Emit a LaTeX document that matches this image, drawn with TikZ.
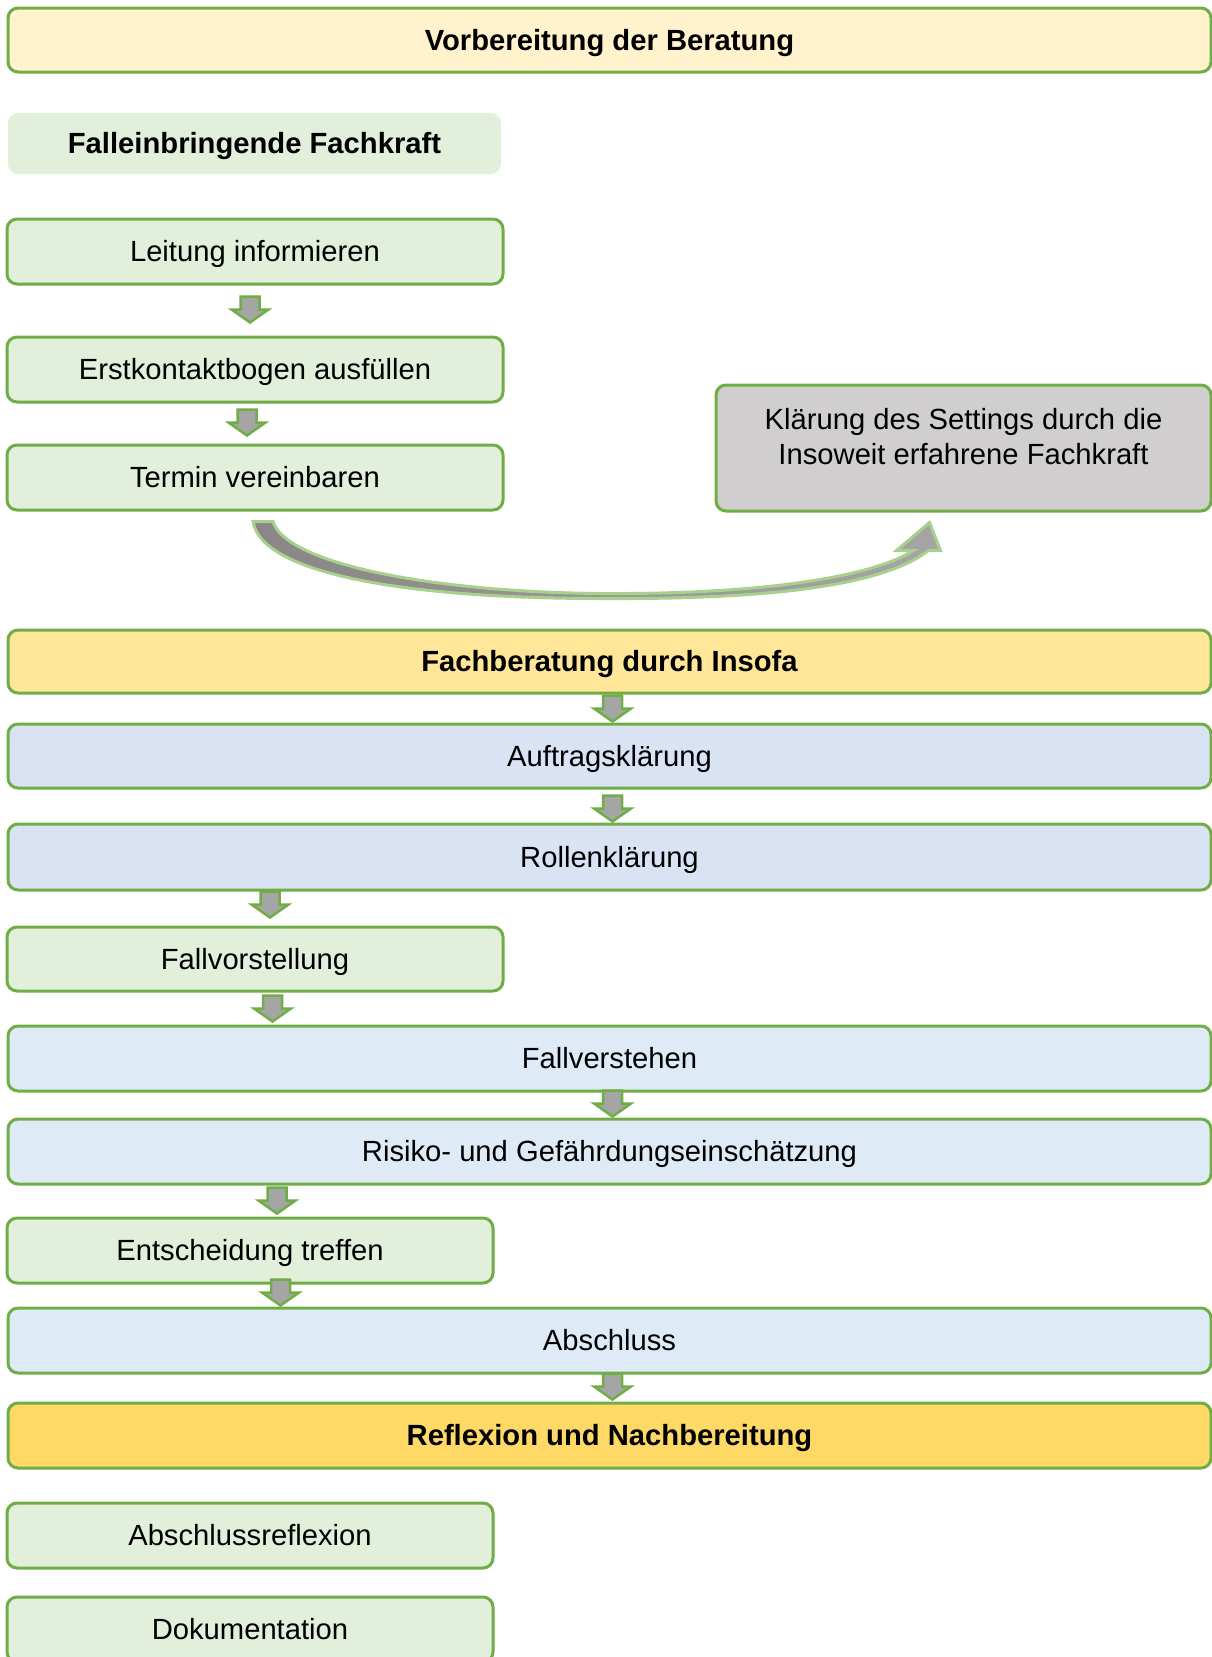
\documentclass[tikz,border=0pt]{standalone}
\usepackage{fontspec}
\setmainfont{Liberation Sans}
\usetikzlibrary{calc}

\definecolor{linegreen}{HTML}{70AD47}
\definecolor{palegreen}{HTML}{A9D18E}
\definecolor{cream}{HTML}{FFF2CC}
\definecolor{lightgreen}{HTML}{E2EFDA}
\definecolor{paleyellow}{HTML}{FFE699}
\definecolor{goldyellow}{HTML}{FFD966}
\definecolor{greyblue}{HTML}{DAE3F3}
\definecolor{skyblue}{HTML}{DEEBF7}
\definecolor{boxgrey}{HTML}{D0CECE}
\definecolor{arrowgrey}{HTML}{A5A5A5}
\definecolor{arrowdark}{HTML}{8A8686}

\begin{document}
\begin{tikzpicture}[x=0.75pt, y=-0.75pt,
  box/.style={draw=linegreen, line width=3*\Px, rounded corners=10*\Px, inner sep=0pt, minimum height=65*\Px, text height=0.905em, text depth=0.212em},
  widebox/.style={box, minimum width=1203*\Px},
  leftbox/.style={box, minimum width=496*\Px},
  leftboxs/.style={box, minimum width=486*\Px},
  blockarrow/.style={draw=linegreen, fill=arrowgrey, line width=2.5*\Px},
  curvearrow/.style={draw=palegreen, line width=3*\Px, left color=arrowdark, right color=arrowgrey}]

  \fontsize{21.9}{26.3}\selectfont

  \newcommand\Px{0.75pt}
  \newcommand\flowarrow[3]{\draw[blockarrow] ($(#1.north)+(#2,-#3)$) -- ++(18.5,-13) -- ++(-9,0) -- ++(0,-13) -- ++(-19,0) -- ++(0,13) -- ++(-9,0) -- cycle;}

  \useasboundingbox (0,0) rectangle (1212,1657);
  \clip (0,0) rectangle (1212,1657);

  %% Vorbereitung
  \node[widebox, fill=cream, minimum height=64*\Px, font=\bfseries] (vorb) at (609.5,40) {Vorbereitung der Beratung};
  \node[fill=lightgreen, rounded corners=10*\Px, minimum width=493*\Px, minimum height=61*\Px, text height=0.905em, text depth=0.212em, font=\bfseries] (fachkraft) at (254.5,143.5) {Falleinbringende Fachkraft};

  \node[leftbox, fill=lightgreen] (leitung) at (255,251.5) {Leitung informieren};
  \node[leftbox, fill=lightgreen] (erst) at (255,369.5) {Erstkontaktbogen ausfüllen};
  \node[leftbox, fill=lightgreen] (termin) at (255,477.5) {Termin vereinbaren};

  \node[box, fill=boxgrey, minimum width=495*\Px, minimum height=126*\Px, text height=0pt, text depth=0pt] (klaerung) at (963.5,448) {};
  \node[align=center] (klaerungtxt) at ($(klaerung.center)+(0,-11)$) {Klärung des Settings durch die\\Insoweit erfahrene Fachkraft};

  \flowarrow{erst}{-5}{13}     %% leitung -> erst
  \flowarrow{termin}{-8}{8}    %% erst -> termin

  %% termin -> klaerung
  \coordinate (tailpt) at ($(termin.south)+(8,10)$);
  \coordinate (headpt) at ($(klaerung.south)+(-34,10)$);
  \draw[curvearrow] ($(tailpt)+(-10,0)$) -- ($(tailpt)+(10,0)$)
    .. controls ($(tailpt)+(22,40)$) and ($(tailpt)+(157,70)$) .. ($(tailpt)+(337,72)$)
    .. controls ($(headpt)+(-169,72)$) and ($(headpt)+(-59,55)$) .. ($(headpt)+(-16,28)$)
    -- ($(headpt)+(-33,28)$) -- (headpt) -- ($(headpt)+(11,28)$) -- ($(headpt)+(-1,28)$)
    .. controls ($(headpt)+(-49,65)$) and ($(headpt)+(-169,77)$) .. ($(tailpt)+(337,77)$)
    .. controls ($(tailpt)+(157,77)$) and ($(tailpt)+(-1,55)$) .. ($(tailpt)+(-10,0)$) -- cycle;

  %% Fachberatung
  \node[widebox, fill=paleyellow, minimum height=63*\Px, font=\bfseries] (fachber) at (609.5,661.5) {Fachberatung durch Insofa};
  \node[widebox, fill=greyblue, minimum height=64*\Px] (auftrag) at (609.5,756) {Auftragsklärung};
  \node[widebox, fill=greyblue, minimum height=66*\Px] (rollen) at (609.5,857) {Rollenklärung};
  \node[leftbox, fill=lightgreen, minimum height=64*\Px] (fallvor) at (255,959) {Fallvorstellung};
  \node[widebox, fill=skyblue] (fallver) at (609.5,1058.5) {Fallverstehen};
  \node[widebox, fill=skyblue] (risiko) at (609.5,1151.5) {Risiko- und Gefährdungseinschätzung};
  \node[leftboxs, fill=lightgreen] (entsch) at (250,1250.5) {Entscheidung treffen};
  \node[widebox, fill=skyblue] (abschluss) at (609.5,1340.5) {Abschluss};

  \flowarrow{auftrag}{3}{1}      %% fachber -> auftrag
  \flowarrow{rollen}{3}{1}       %% auftrag -> rollen
  \flowarrow{fallvor}{15}{8}     %% rollen -> fallvor
  \flowarrow{fallver}{-337}{3}   %% fallvor -> fallver
  \flowarrow{risiko}{3}{1}       %% fallver -> risiko
  \flowarrow{entsch}{27}{3}      %% risiko -> entsch
  \flowarrow{abschluss}{-329}{1} %% entsch -> abschluss

  %% Reflexion
  \node[widebox, fill=goldyellow, font=\bfseries] (reflexion) at (609.5,1435.5) {Reflexion und Nachbereitung};
  \flowarrow{reflexion}{3}{2}    %% abschluss -> reflexion

  \node[leftboxs, fill=lightgreen] (abrefl) at (250,1535.5) {Abschlussreflexion};
  \node[leftboxs, fill=lightgreen] (doku) at (250,1629.5) {Dokumentation};
\end{tikzpicture}
\end{document}
